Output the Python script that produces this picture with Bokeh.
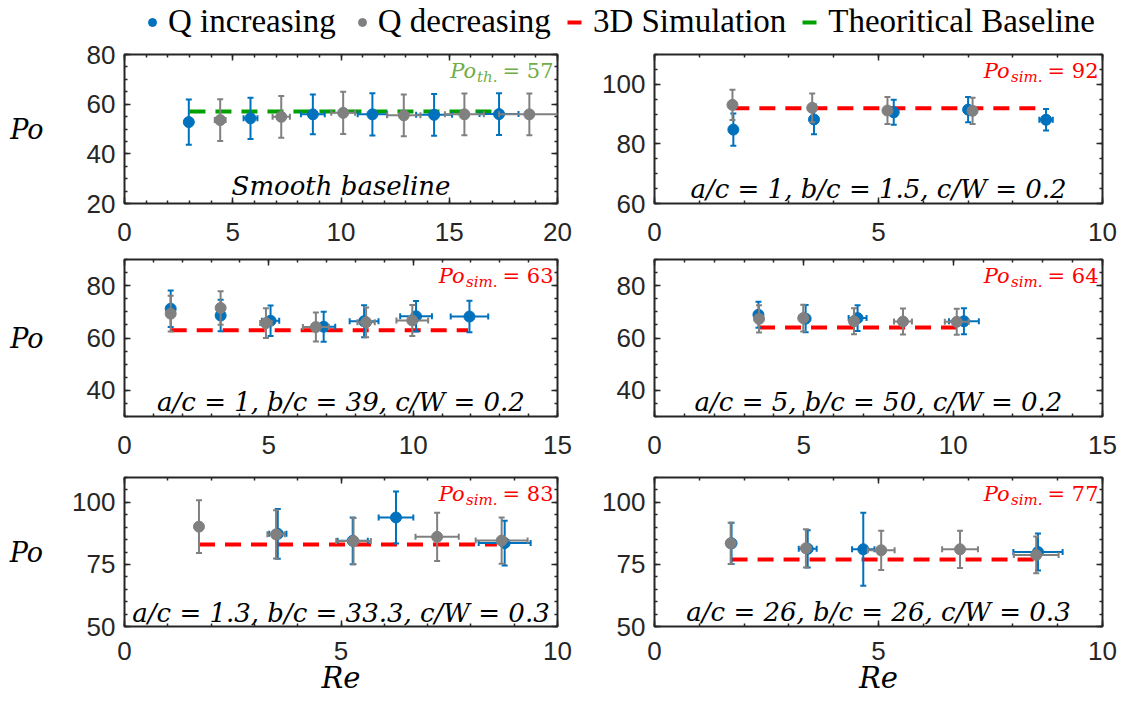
from bokeh.plotting import figure
from bokeh.layouts import column, row
from bokeh.models import (Range1d, LinearAxis, SingleIntervalTicker, Label, Legend,
                          LegendItem, ColumnDataSource)
from bokeh.embed import file_html
from bokeh.resources import INLINE
import math

# ---------------- data ----------------
legend_labels = ["Q increasing", "Q decreasing", "3D Simulation", "Theoritical Baseline"]
x_title = "Re"
y_title = "Po"

# panel 1: smooth baseline
p1_inc_re = [2.97, 5.82, 8.7, 11.45, 14.3, 17.3]
p1_inc_re_err = [0.0, 0.32, 0.55, 0.68, 0.83, 0.9]
p1_inc_po = [52.8, 54.3, 55.9, 55.9, 55.7, 56.0]
p1_inc_po_err = [9.1, 8.3, 8.0, 8.5, 8.4, 8.4]
p1_dec_re = [4.42, 7.24, 10.1, 12.9, 15.7, 18.7]
p1_dec_re_err = [0.25, 0.4, 0.55, 0.77, 0.9, 1.4]
p1_dec_po = [53.6, 54.9, 56.5, 55.5, 55.9, 55.9]
p1_dec_po_err = [8.4, 8.4, 8.5, 8.4, 8.4, 8.4]
p1_ref_po = 57
p1_ref_re = [3.0, 17.1]
p1_note = "Smooth baseline"

# panel 2
p2_inc_re = [1.76, 3.56, 5.34, 7.0, 8.74]
p2_inc_re_err = [0.0, 0.0, 0.0, 0.0, 0.15]
p2_inc_po = [84.8, 88.2, 90.6, 91.5, 88.1]
p2_inc_po_err = [5.4, 5.0, 4.2, 4.2, 3.6]
p2_dec_re = [1.74, 3.52, 5.2, 7.1]
p2_dec_re_err = [0.0, 0.0, 0.0, 0.0]
p2_dec_po = [93.1, 92.1, 91.2, 91.1]
p2_dec_po_err = [5.1, 4.8, 4.5, 4.4]
p2_ref_po = 92
p2_ref_re = [1.76, 8.62]
p2_note = "a/c = 1, b/c = 1.5, c/W = 0.2"

# panel 3
p3_inc_re = [1.6, 3.33, 5.06, 6.9, 8.3, 10.1, 11.95]
p3_inc_re_err = [0.0, 0.0, 0.3, 0.4, 0.5, 0.55, 0.65]
p3_inc_po = [71.2, 68.6, 66.6, 64.3, 66.4, 68.3, 68.2]
p3_inc_po_err = [7.0, 6.0, 5.8, 5.7, 6.1, 5.8, 6.0]
p3_dec_re = [1.6, 3.33, 4.9, 6.63, 8.37, 9.97]
p3_dec_re_err = [0.0, 0.0, 0.2, 0.45, 0.3, 0.55]
p3_dec_po = [69.3, 71.5, 65.7, 64.2, 66.0, 66.7]
p3_dec_po_err = [6.8, 6.4, 5.7, 5.5, 5.7, 5.9]
p3_ref_po = 63
p3_ref_re = [1.6, 11.9]
p3_note = "a/c = 1, b/c = 39, c/W = 0.2"

# panel 4
p4_inc_re = [3.48, 5.06, 6.8, 10.36]
p4_inc_re_err = [0.0, 0.0, 0.3, 0.5]
p4_inc_po = [68.9, 67.4, 67.6, 66.4]
p4_inc_po_err = [5.0, 5.2, 4.9, 5.0]
p4_dec_re = [3.5, 4.98, 6.68, 8.32, 10.12]
p4_dec_re_err = [0.0, 0.0, 0.0, 0.3, 0.4]
p4_dec_po = [67.3, 67.6, 66.4, 66.3, 66.2]
p4_dec_po_err = [5.2, 5.1, 5.0, 5.0, 5.0]
p4_ref_po = 64
p4_ref_re = [3.5, 10.1]
p4_note = "a/c = 5, b/c = 50, c/W = 0.2"

# panel 5
p5_inc_re = [3.54, 5.27, 6.27, 8.78]
p5_inc_re_err = [0.2, 0.35, 0.4, 0.6]
p5_inc_po = [87.3, 84.5, 93.9, 83.6]
p5_inc_po_err = [10.0, 9.4, 10.5, 9.0]
p5_dec_re = [1.72, 3.5, 5.29, 7.22, 8.71]
p5_dec_re_err = [0.0, 0.2, 0.4, 0.5, 0.6]
p5_dec_po = [90.2, 87.1, 84.4, 86.1, 84.6]
p5_dec_po_err = [10.6, 9.7, 9.3, 9.7, 9.3]
p5_ref_po = 83
p5_ref_re = [1.72, 8.6]
p5_note = "a/c = 1.3, b/c = 33.3, c/W = 0.3"

# panel 6
p6_inc_re = [1.72, 3.42, 4.66, 8.56]
p6_inc_re_err = [0.0, 0.2, 0.25, 0.55]
p6_inc_po = [83.5, 81.3, 81.1, 80.0]
p6_inc_po_err = [8.3, 7.5, 14.7, 7.4]
p6_dec_re = [1.70, 3.38, 5.06, 6.82, 8.52]
p6_dec_re_err = [0.0, 0.0, 0.3, 0.4, 0.5]
p6_dec_po = [83.5, 81.5, 80.7, 81.1, 78.8]
p6_dec_po_err = [8.3, 7.7, 7.9, 7.5, 7.4]
p6_ref_po = 77
p6_ref_re = [1.72, 8.52]
p6_note = "a/c = 26, b/c = 26, c/W = 0.3"

# ---------------- style ----------------
BLUE = "#0072BD"
GRAY = "#808080"
RED = "#FF0000"
GREEN = "#00A000"
GREEN_TXT = "#70AD47"
AX = "#262626"
SERIF = "DejaVu Serif"
TICK_FONT = "Liberation Sans"

CW = {c: 0.636 for c in "0123456789"}
CW.update({"=": 0.838, " ": 0.318, ".": 0.318, "s": 0.514, "i": 0.338, "m": 0.948,
           "t": 0.392, "h": 0.640, "P": 0.733, "o": 0.602})


def tw(s, size):
    return sum(CW.get(c, 0.6) for c in s) * size


HAS_ORIENT = "axis_label_orientation" in LinearAxis.properties()


def style_axis(ax, ticker, labels=True, standoff=8):
    ax.ticker = ticker
    ax.axis_line_color = None
    ax.major_tick_in = 6
    ax.major_tick_out = 0
    ax.minor_tick_in = 3
    ax.minor_tick_out = 0
    ax.major_tick_line_color = AX
    ax.minor_tick_line_color = AX
    ax.major_tick_line_width = 1.5
    ax.minor_tick_line_width = 1.5
    if labels:
        ax.major_label_text_font = TICK_FONT
        ax.major_label_text_font_size = "26px"
        ax.major_label_text_color = AX
        ax.major_label_standoff = standoff
    else:
        ax.major_label_text_font_size = "0px"
        ax.major_label_text_color = None
        ax.major_label_standoff = 0


def err_series(p, x, xerr, y, yerr, color):
    ylo = [a - b for a, b in zip(y, yerr)]
    yhi = [a + b for a, b in zip(y, yerr)]
    src = ColumnDataSource(dict(x=x, y=y, ylo=ylo, yhi=yhi))
    p.segment(x0="x", y0="ylo", x1="x", y1="yhi", source=src, line_color=color, line_width=2)
    p.scatter(x="x", y="ylo", marker="dash", size=6, line_color=color, line_width=2, source=src)
    p.scatter(x="x", y="yhi", marker="dash", size=6, line_color=color, line_width=2, source=src)
    hx = [a for a, e in zip(x, xerr) if e > 0]
    hy = [b for b, e in zip(y, xerr) if e > 0]
    he = [e for e in xerr if e > 0]
    if hx:
        hsrc = ColumnDataSource(dict(y=hy, xlo=[a - e for a, e in zip(hx, he)],
                                     xhi=[a + e for a, e in zip(hx, he)]))
        p.segment(x0="xlo", y0="y", x1="xhi", y1="y", source=hsrc, line_color=color, line_width=2)
        p.scatter(x="xlo", y="y", marker="dash", angle=math.pi / 2, size=6, line_color=color,
                  line_width=2, source=hsrc)
        p.scatter(x="xhi", y="y", marker="dash", angle=math.pi / 2, size=6, line_color=color,
                  line_width=2, source=hsrc)
    p.scatter(x="x", y="y", marker="circle", size=11, fill_color=color, line_color=color, source=src)


def make_panel(xr, yr, xint, yint, yminor, w, h, bl, br, bt, bb, xstand,
               inc, dec, ref_po, ref_re, ref_color, note, sub, val_color, po_stand=None,
               re_label=False, note_off=6):
    p = figure(width=w, height=h, x_range=Range1d(*xr), y_range=Range1d(*yr),
               output_backend="svg", toolbar_location=None,
               min_border_left=bl, min_border_right=br, min_border_top=bt, min_border_bottom=bb)
    p.grid.visible = False
    p.outline_line_color = AX
    p.outline_line_width = 2
    p.background_fill_color = "white"
    p.border_fill_color = "white"
    xa = p.xaxis[0]
    ya = p.yaxis[0]
    xt = SingleIntervalTicker(interval=xint, num_minor_ticks=5)
    yt = SingleIntervalTicker(interval=yint, num_minor_ticks=yminor)
    style_axis(xa, xt, True, xstand)
    style_axis(ya, yt, True, 9)
    top = LinearAxis()
    style_axis(top, xt, False)
    p.add_layout(top, "above")
    rgt = LinearAxis()
    style_axis(rgt, yt, False)
    p.add_layout(rgt, "right")

    if po_stand is not None:
        ya.axis_label = y_title
        ya.axis_label_text_font = SERIF
        ya.axis_label_text_font_style = "italic"
        ya.axis_label_text_font_size = "27px"
        ya.axis_label_text_color = "black"
        ya.axis_label_standoff = po_stand
        if HAS_ORIENT:
            ya.axis_label_orientation = "horizontal"
    if re_label:
        xa.axis_label = x_title
        xa.axis_label_text_font = SERIF
        xa.axis_label_text_font_style = "italic"
        xa.axis_label_text_font_size = "29px"
        xa.axis_label_text_color = "black"
        xa.axis_label_standoff = -2

    p.line(x=ref_re, y=[ref_po, ref_po], line_color=ref_color, line_width=4, line_dash="16 10")
    err_series(p, *inc, BLUE)
    err_series(p, *dec, GRAY)

    # bottom note
    p.add_layout(Label(x=(xr[0] + xr[1]) / 2, y=yr[0], y_offset=note_off + 9, text=note,
                       text_align="center", text_baseline="alphabetic",
                       text_font=SERIF, text_font_style="italic",
                       text_font_size="26px", text_color="black"))
    # top right value
    eq = "= %d" % ref_po
    w_eq = tw(eq, 21)
    w_sub = tw(sub, 15)
    r0 = -4
    r1 = r0 - w_eq - 5
    r2 = r1 - w_sub - 1
    p.add_layout(Label(x=xr[1], y=yr[1], x_offset=r0, y_offset=-16, text=eq,
                       text_align="right", text_baseline="alphabetic",
                       text_font=SERIF, text_font_size="21px", text_color=val_color))
    p.add_layout(Label(x=xr[1], y=yr[1], x_offset=r1, y_offset=-22, text=sub,
                       text_align="right", text_baseline="alphabetic",
                       text_font=SERIF, text_font_style="italic",
                       text_font_size="15px", text_color=val_color))
    p.add_layout(Label(x=xr[1], y=yr[1], x_offset=r2, y_offset=-16, text="Po",
                       text_align="right", text_baseline="alphabetic",
                       text_font=SERIF, text_font_style="italic",
                       text_font_size="21px", text_color=val_color))
    return p


LW, RW = 598, 526
H1, H2, H3 = 212, 217, 234
p1 = make_panel((0, 20), (20, 80), 5, 20, 4, LW, H1, 124, 41, 15, 48, 19,
                (p1_inc_re, p1_inc_re_err, p1_inc_po, p1_inc_po_err),
                (p1_dec_re, p1_dec_re_err, p1_dec_po, p1_dec_po_err),
                p1_ref_po, p1_ref_re, GREEN, p1_note, "th.", GREEN_TXT, po_stand=40, note_off=9)
p2 = make_panel((0, 10), (60, 110), 5, 20, 4, RW, H1, 56, 22, 15, 48, 19,
                (p2_inc_re, p2_inc_re_err, p2_inc_po, p2_inc_po_err),
                (p2_dec_re, p2_dec_re_err, p2_dec_po, p2_dec_po_err),
                p2_ref_po, p2_ref_re, RED, p2_note, "sim.", RED)
p3 = make_panel((0, 15), (30, 90), 5, 20, 4, LW, H2, 124, 41, 8, 52, 19,
                (p3_inc_re, p3_inc_re_err, p3_inc_po, p3_inc_po_err),
                (p3_dec_re, p3_dec_re_err, p3_dec_po, p3_dec_po_err),
                p3_ref_po, p3_ref_re, RED, p3_note, "sim.", RED, po_stand=40)
p4 = make_panel((0, 15), (30, 90), 5, 20, 4, RW, H2, 56, 22, 8, 52, 19,
                (p4_inc_re, p4_inc_re_err, p4_inc_po, p4_inc_po_err),
                (p4_dec_re, p4_dec_re_err, p4_dec_po, p4_dec_po_err),
                p4_ref_po, p4_ref_re, RED, p4_note, "sim.", RED)
p5 = make_panel((0, 10), (50, 110), 5, 25, 5, LW, H3, 124, 41, 9, 76, 15,
                (p5_inc_re, p5_inc_re_err, p5_inc_po, p5_inc_po_err),
                (p5_dec_re, p5_dec_re_err, p5_dec_po, p5_dec_po_err),
                p5_ref_po, p5_ref_re, RED, p5_note, "sim.", RED, po_stand=26, re_label=True,
                note_off=5)
p6 = make_panel((0, 10), (50, 110), 5, 25, 5, RW, H3, 56, 22, 9, 76, 15,
                (p6_inc_re, p6_inc_re_err, p6_inc_po, p6_inc_po_err),
                (p6_dec_re, p6_dec_re_err, p6_dec_po, p6_dec_po_err),
                p6_ref_po, p6_ref_re, RED, p6_note, "sim.", RED, re_label=True)

# ---------------- legend ----------------
lg = figure(width=1124, height=39, output_backend="svg", toolbar_location=None,
            x_axis_location=None, y_axis_location=None, min_border=0,
            x_range=Range1d(0, 1), y_range=Range1d(0, 1))
lg.grid.visible = False
lg.outline_line_color = None
# legend proxies: real data points, which lie outside this strip's ranges
r_inc = lg.scatter(x=p1_inc_re[:1], y=p1_inc_po[:1], marker="circle",
                   fill_color=BLUE, line_color=BLUE)
r_dec = lg.scatter(x=p1_dec_re[:1], y=p1_dec_po[:1], marker="circle",
                   fill_color=GRAY, line_color=GRAY)
r_sim = lg.line(x=p2_ref_re, y=[p2_ref_po, p2_ref_po], line_color=RED, line_width=4,
                line_dash="14 10")
r_th = lg.line(x=p1_ref_re, y=[p1_ref_po, p1_ref_po], line_color=GREEN, line_width=4,
               line_dash="14 10")
leg = Legend(items=[LegendItem(label=legend_labels[0], renderers=[r_inc]),
                    LegendItem(label=legend_labels[1], renderers=[r_dec]),
                    LegendItem(label=legend_labels[2], renderers=[r_sim]),
                    LegendItem(label=legend_labels[3], renderers=[r_th])],
             orientation="horizontal", location=(142, -1), padding=0, margin=0,
             spacing=16, label_standoff=6, glyph_width=20, glyph_height=20,
             label_text_font="Liberation Serif", label_text_font_size="33px",
             label_text_color="black", border_line_color=None, background_fill_alpha=0)
lg.add_layout(leg, "center")

layout = column(lg, row(p1, p2), row(p3, p4), row(p5, p6))
open("out.html", "w").write(file_html(layout, INLINE))
